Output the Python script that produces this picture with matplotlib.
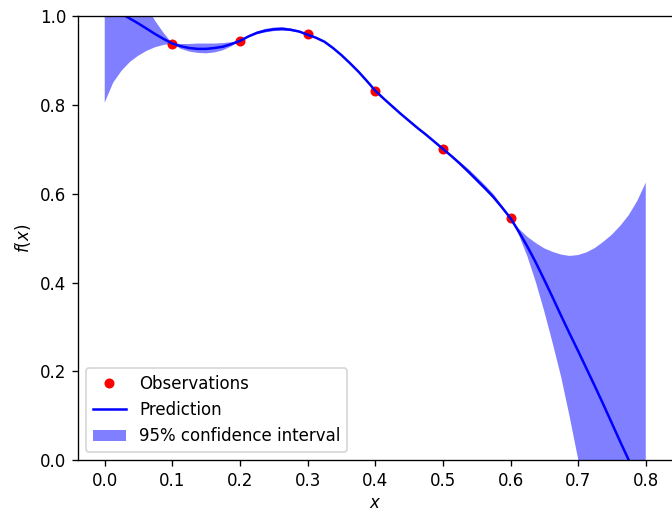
import matplotlib
matplotlib.use("Agg")
import matplotlib.pyplot as plt

# observations
x_obs = [0.1, 0.2, 0.3, 0.4, 0.5, 0.6]
y_obs = [0.938, 0.944, 0.959, 0.832, 0.701, 0.545]

# prediction grid, values
x_grid = [0.0000, 0.0125, 0.0250, 0.0375, 0.0500, 0.0625, 0.0750, 0.0875,
          0.1000, 0.1125, 0.1250, 0.1375, 0.1500, 0.1625, 0.1750, 0.1875,
          0.2000, 0.2125, 0.2250, 0.2375, 0.2500, 0.2625, 0.2750, 0.2875,
          0.3000, 0.3125, 0.3250, 0.3375, 0.3500, 0.3625, 0.3750, 0.3875,
          0.4000, 0.4125, 0.4250, 0.4375, 0.4500, 0.4625, 0.4750, 0.4875,
          0.5000, 0.5125, 0.5250, 0.5375, 0.5500, 0.5625, 0.5750, 0.5875,
          0.6000, 0.6125, 0.6250, 0.6375, 0.6500, 0.6625, 0.6750, 0.6875,
          0.7000, 0.7125, 0.7250, 0.7375, 0.7500, 0.7625, 0.7750, 0.7875,
          0.8000]
y_pred = [1.035, 1.020, 1.005, 0.994, 0.983, 0.971, 0.959, 0.948,
          0.938, 0.932, 0.928, 0.926, 0.926, 0.928, 0.931, 0.937,
          0.944, 0.954, 0.962, 0.967, 0.970, 0.971, 0.969, 0.965,
          0.958, 0.951, 0.942, 0.928, 0.912, 0.894, 0.875, 0.854,
          0.832, 0.814, 0.797, 0.780, 0.764, 0.748, 0.733, 0.717,
          0.701, 0.685, 0.668, 0.650, 0.631, 0.612, 0.592, 0.569,
          0.545, 0.514, 0.481, 0.445, 0.406, 0.366, 0.325, 0.285,
          0.246, 0.206, 0.166, 0.125, 0.083, 0.041, 0.000, -0.042,
          -0.084]
ci_low = [0.805, 0.850, 0.877, 0.897, 0.911, 0.922, 0.930, 0.935,
          0.938, 0.926, 0.920, 0.917, 0.916, 0.918, 0.923, 0.932,
          0.944, 0.952, 0.959, 0.963, 0.966, 0.967, 0.966, 0.963,
          0.958, 0.950, 0.941, 0.927, 0.911, 0.893, 0.874, 0.853,
          0.832, 0.813, 0.796, 0.779, 0.763, 0.747, 0.732, 0.716,
          0.701, 0.684, 0.665, 0.646, 0.627, 0.608, 0.589, 0.567,
          0.545, 0.507, 0.459, 0.401, 0.335, 0.263, 0.187, 0.098,
          0.003, -0.095, -0.195, -0.300, -0.410, -0.530, -0.650, -0.780,
          -0.910]
ci_high = [1.265, 1.190, 1.133, 1.091, 1.055, 1.020, 0.988, 0.961,
           0.938, 0.937, 0.937, 0.938, 0.938, 0.938, 0.939, 0.941,
           0.944, 0.956, 0.965, 0.971, 0.974, 0.975, 0.972, 0.967,
           0.958, 0.952, 0.943, 0.929, 0.913, 0.895, 0.876, 0.855,
           0.832, 0.815, 0.798, 0.781, 0.765, 0.749, 0.734, 0.718,
           0.701, 0.687, 0.672, 0.656, 0.638, 0.619, 0.599, 0.573,
           0.545, 0.521, 0.503, 0.489, 0.477, 0.469, 0.463, 0.460,
           0.462, 0.468, 0.478, 0.492, 0.508, 0.528, 0.552, 0.584,
           0.625]

fig = plt.figure(figsize=(5.6, 4.275), dpi=120)
ax = fig.add_axes([0.1156, 0.1027, 0.8856, 0.8661])

ax.plot(x_obs, y_obs, 'r.', markersize=10, label='Observations')
ax.plot(x_grid, y_pred, 'b-', label='Prediction')
ax.fill(x_grid + x_grid[::-1], ci_low + ci_high[::-1],
        alpha=.5, fc='b', ec='None', label='95% confidence interval')

ax.set_xlabel('$x$', labelpad=2.2)
ax.set_ylabel('$f(x)$')
ax.set_ylim(0, 1)
ax.set_xlim(-0.04, 0.84)
ax.legend(loc='lower left')

fig.savefig('out.png', dpi=120)
